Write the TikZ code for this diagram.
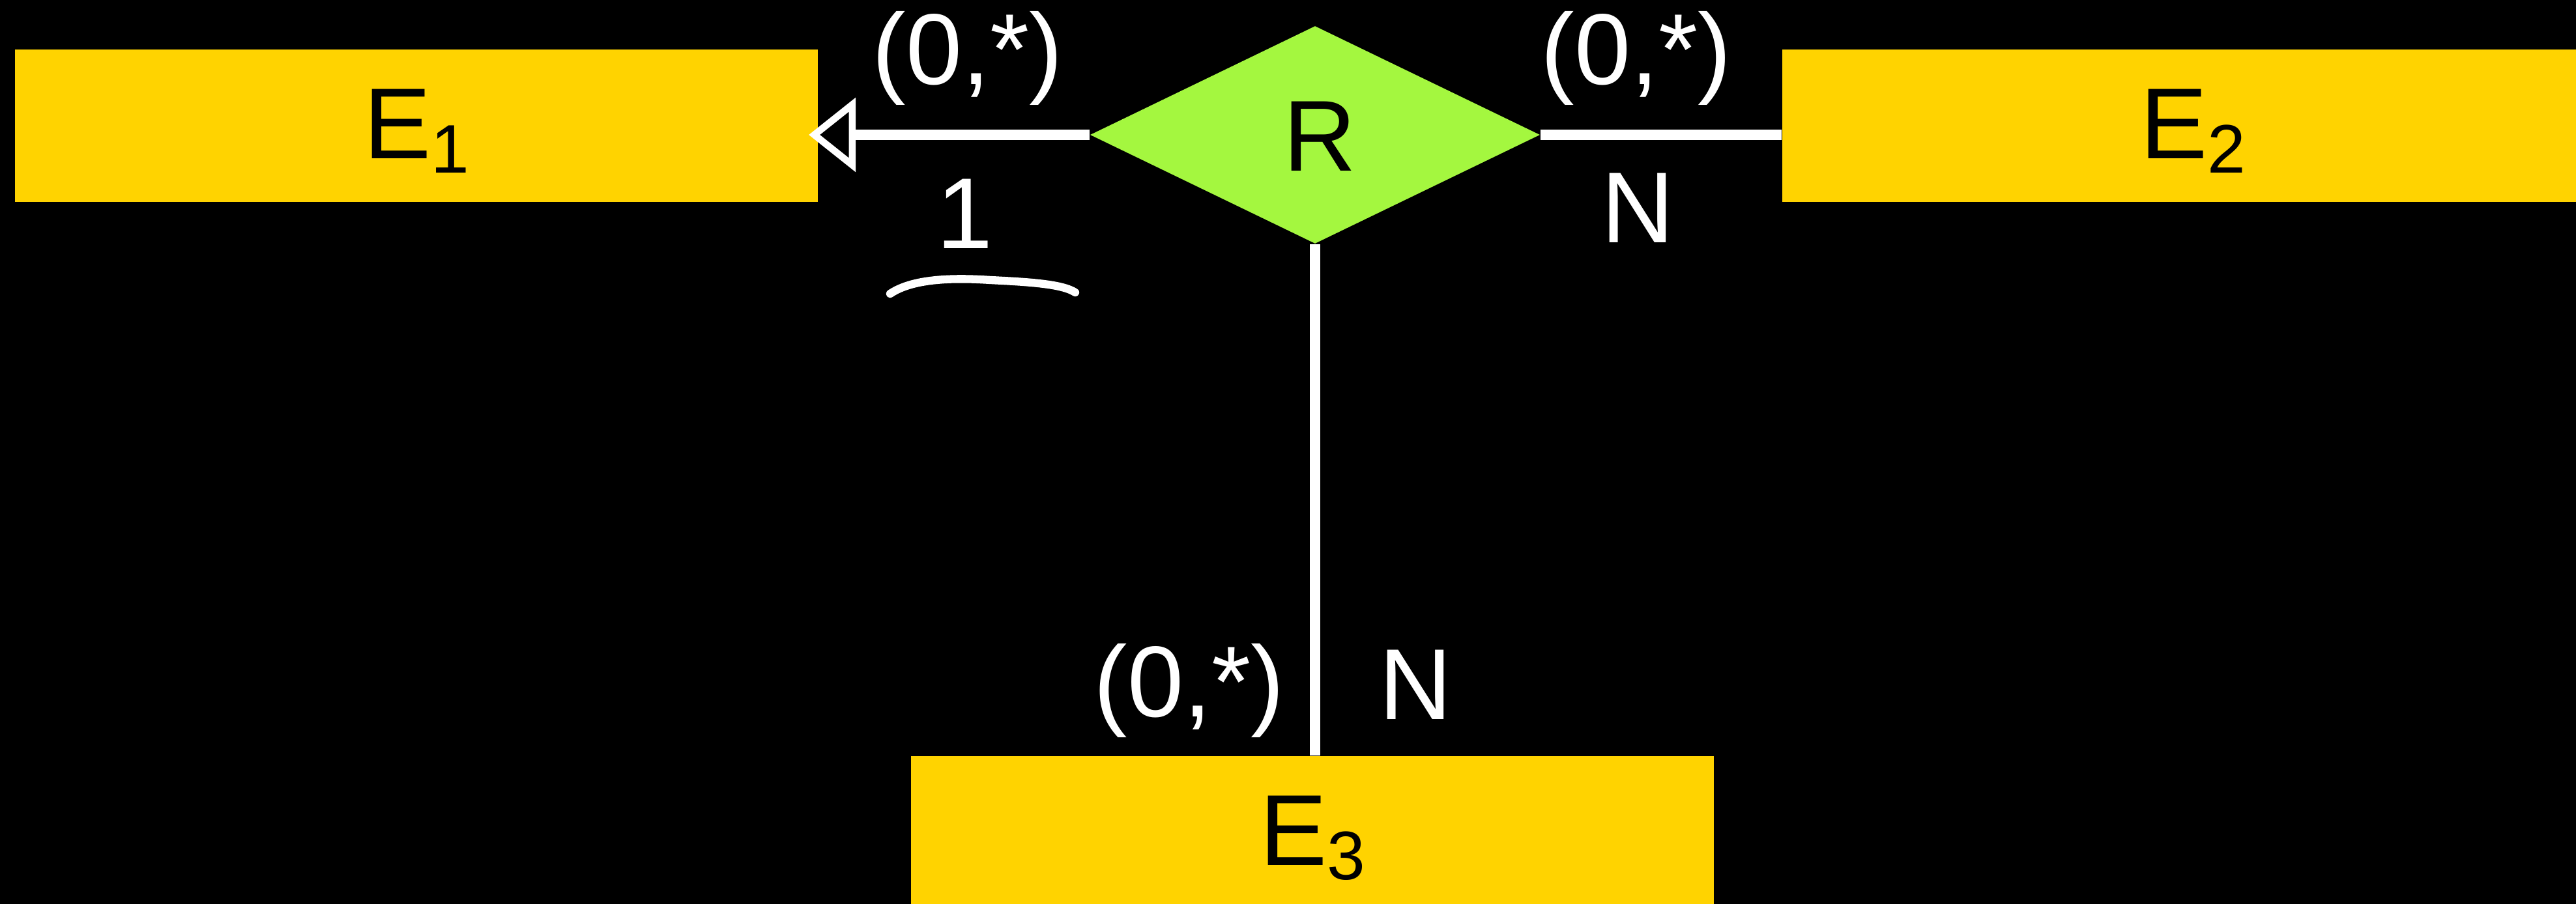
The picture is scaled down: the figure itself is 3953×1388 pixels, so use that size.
\documentclass[tikz,border=0pt]{standalone}
\usepackage{fontspec}
\setmainfont{Liberation Sans}
\usetikzlibrary{shapes.geometric,arrows.meta}
\definecolor{entyellow}{RGB}{255,211,0}
\definecolor{relgreen}{RGB}{164,247,63}
\newcommand{\bigfont}{\fontsize{44}{48}\selectfont}
\newcommand{\subfont}{\fontsize{30}{30}\selectfont}
\newcommand{\ent}[1]{E\raisebox{-0.22cm}{\subfont #1}}
\tikzset{
  entity/.style={rectangle, fill=entyellow, draw=none, inner sep=0pt,
    minimum width=12.32cm, minimum height=2.34cm, font=\bigfont,
    text height=1.15cm, text depth=0.15cm, text=black},
  relation/.style={diamond, fill=relgreen, draw=none, inner sep=0pt,
    minimum width=6.9cm, minimum height=3.34cm},
  lbl/.style={inner sep=0pt, anchor=base, font=\bigfont, text=white},
  conn/.style={draw=white, line width=4.5pt},
}
\begin{document}
\begin{tikzpicture}[x=0.01cm, y=-0.01cm]
\fill[black] (0,0) rectangle (3953,1388);
\useasboundingbox (0,0) rectangle (3953,1388);

\node[entity] (E1) at (639,193) {\ent{1}};
\node[entity, minimum width=12.6cm] (E2) at (3365,193) {\ent{2}};
\node[entity] (E3) at (2014,1278) {\ent{3}};
\node[relation] (R) at (2018,207) {};
\node[lbl, text=black] (Rtext) at (2025,263) {R};

\draw[conn, -{Triangle[open, length=0.72cm, width=1.12cm, line width=3pt]}, shorten >=-0.15cm]
  (R.west) -- (R.west -| E1.east);
\draw[conn] (R.east) -- (R.east -| E2.west);
\draw[conn] (R.south) -- (R.south |- E3.north);

\node[lbl] (c1) at (1485,130) {(0,*)};
\node[lbl] (k1) at (1481,381) {1};
\node[lbl] (c2) at (2511,130) {(0,*)};
\node[lbl] (k2) at (2513,373) {N};
\node[lbl] (c3) at (1825,1100) {(0,*)};
\node[lbl] (k3) at (2172,1104) {N};

\draw[white, line width=3.5pt, line cap=round]
  (1366,451) .. controls (1400,428) and (1460,426) .. (1520,430)
  .. controls (1580,433) and (1630,436) .. (1650,449);
\end{tikzpicture}
\end{document}
